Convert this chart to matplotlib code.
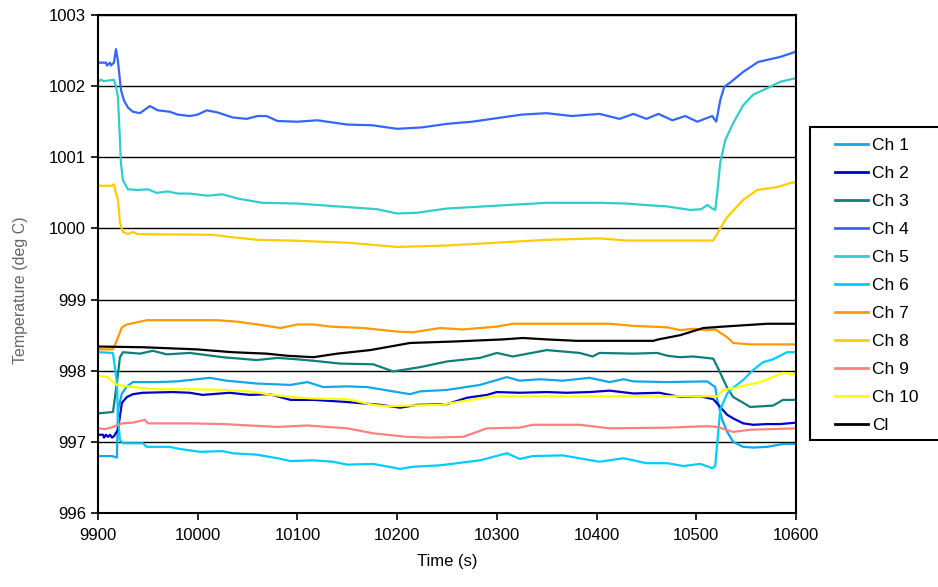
import matplotlib
matplotlib.use("Agg")
import matplotlib.pyplot as plt
from matplotlib.patches import Rectangle

plt.rcParams['font.family'] = ['Liberation Sans', 'DejaVu Sans']

# ---------------- data ----------------
t_ch1 = [9900,9914,9919,9920,9924,9929,9935,9959,9979,10012,10029,10059,10093,10110,10126,10150,10170,10200,10213,10223,10250,10283,10310,10323,10343,10366,10393,10413,10427,10437,10471,10511,10519,10521,10526,10531,10537,10547,10557,10571,10587,10600]
ch1 = [996.8,996.8,996.78,997.45,997.68,997.78,997.84,997.84,997.85,997.9,997.86,997.82,997.8,997.84,997.77,997.78,997.77,997.7,997.67,997.71,997.73,997.8,997.91,997.86,997.88,997.86,997.9,997.84,997.88,997.85,997.84,997.85,997.77,997.59,997.31,997.14,997.0,996.93,996.92,996.93,996.97,996.97]

t_ch2 = [9900,9905,9906,9908,9910,9912,9914,9916,9920,9924,9929,9935,9945,9975,9992,10005,10032,10052,10072,10093,10116,10150,10183,10203,10220,10250,10270,10290,10300,10323,10350,10370,10393,10413,10437,10463,10484,10504,10517,10524,10531,10537,10547,10557,10571,10584,10600]
ch2 = [997.1,997.1,997.06,997.1,997.07,997.1,997.06,997.08,997.17,997.55,997.63,997.67,997.69,997.7,997.69,997.66,997.69,997.66,997.67,997.59,997.59,997.56,997.52,997.48,997.52,997.53,997.62,997.66,997.7,997.69,997.7,997.69,997.7,997.72,997.68,997.69,997.63,997.64,997.6,997.49,997.38,997.33,997.26,997.24,997.25,997.25,997.27]

t_ch3 = [9900,9915,9919,9922,9925,9942,9955,9969,9992,10025,10059,10080,10100,10116,10143,10176,10196,10223,10250,10283,10300,10316,10350,10383,10396,10403,10437,10461,10471,10484,10497,10517,10524,10531,10537,10547,10554,10577,10587,10600]
ch3 = [997.4,997.42,997.83,998.19,998.26,998.24,998.28,998.23,998.25,998.19,998.15,998.18,998.16,998.14,998.1,998.09,997.99,998.05,998.13,998.18,998.25,998.2,998.29,998.25,998.2,998.25,998.24,998.25,998.21,998.19,998.2,998.17,997.97,997.76,997.63,997.55,997.49,997.51,997.59,997.59]

t_ch4 = [9900,9908,9909,9912,9913,9916,9918,9920,9923,9926,9930,9935,9942,9952,9960,9972,9980,9992,10000,10009,10020,10035,10049,10060,10069,10080,10100,10120,10150,10175,10200,10225,10250,10275,10300,10325,10350,10375,10403,10423,10437,10450,10462,10476,10489,10501,10516,10520,10524,10528,10534,10547,10562,10584,10599,10600]
ch4 = [1002.33,1002.33,1002.29,1002.33,1002.29,1002.33,1002.52,1002.35,1001.95,1001.8,1001.7,1001.64,1001.62,1001.72,1001.66,1001.64,1001.6,1001.58,1001.6,1001.66,1001.63,1001.56,1001.54,1001.58,1001.58,1001.51,1001.5,1001.52,1001.46,1001.45,1001.4,1001.42,1001.47,1001.5,1001.55,1001.6,1001.62,1001.58,1001.61,1001.54,1001.61,1001.54,1001.61,1001.52,1001.58,1001.5,1001.58,1001.5,1001.8,1001.99,1002.05,1002.2,1002.34,1002.41,1002.48,1002.5]

t_ch5 = [9900,9903,9906,9916,9918,9920,9922,9923,9925,9930,9940,9950,9959,9970,9980,9992,10010,10025,10040,10065,10100,10150,10180,10200,10220,10250,10300,10350,10403,10430,10448,10470,10494,10505,10511,10516,10519,10521,10524,10529,10537,10547,10557,10571,10584,10599,10600]
ch5 = [1002.06,1002.09,1002.07,1002.09,1002.0,1001.85,1001.24,1000.92,1000.68,1000.55,1000.54,1000.55,1000.5,1000.52,1000.49,1000.49,1000.46,1000.48,1000.42,1000.36,1000.35,1000.3,1000.27,1000.21,1000.22,1000.28,1000.32,1000.36,1000.36,1000.35,1000.33,1000.31,1000.26,1000.27,1000.33,1000.28,1000.26,1000.5,1000.92,1001.24,1001.48,1001.73,1001.88,1001.97,1002.06,1002.11,1002.12]

t_ch6 = [9900,9915,9919,9920,9922,9925,9945,9949,9972,9982,10002,10025,10035,10059,10080,10093,10116,10136,10150,10176,10203,10216,10243,10283,10310,10323,10336,10366,10403,10427,10450,10471,10487,10504,10516,10519,10521,10524,10531,10537,10547,10557,10567,10577,10591,10600]
ch6 = [998.26,998.25,997.83,997.35,997.03,996.98,996.98,996.93,996.93,996.9,996.86,996.87,996.84,996.82,996.77,996.73,996.74,996.72,996.68,996.69,996.62,996.65,996.67,996.74,996.84,996.76,996.8,996.81,996.72,996.77,996.7,996.7,996.66,996.69,996.63,996.66,996.98,997.45,997.68,997.76,997.87,998.01,998.12,998.16,998.26,998.26]

t_ch7 = [9900,9915,9919,9924,9929,9949,10019,10039,10065,10083,10100,10116,10133,10166,10200,10216,10243,10266,10300,10316,10366,10413,10437,10471,10484,10497,10511,10519,10531,10537,10554,10600]
ch7 = [998.3,998.3,998.43,998.61,998.65,998.71,998.71,998.69,998.64,998.6,998.65,998.65,998.62,998.6,998.55,998.54,998.6,998.58,998.62,998.66,998.66,998.66,998.63,998.61,998.57,998.59,998.57,998.58,998.47,998.39,998.37,998.37]

t_ch8 = [9900,9914,9916,9917,9920,9922,9925,9930,9935,9940,10015,10032,10060,10093,10150,10200,10250,10300,10350,10403,10430,10517,10524,10531,10537,10547,10561,10581,10597,10600]
ch8 = [1000.6,1000.6,1000.62,1000.55,1000.4,1000.08,999.95,999.92,999.95,999.92,999.91,999.88,999.84,999.83,999.8,999.74,999.76,999.8,999.84,999.86,999.83,999.83,1000.0,1000.16,1000.25,1000.4,1000.54,1000.58,1000.65,1000.63]

t_ch9 = [9900,9907,9913,9917,9924,9935,9947,9950,9992,10025,10080,10110,10150,10176,10210,10233,10266,10290,10323,10336,10383,10413,10471,10511,10521,10537,10554,10600]
ch9 = [997.19,997.18,997.2,997.22,997.26,997.27,997.31,997.26,997.26,997.25,997.21,997.23,997.19,997.12,997.07,997.06,997.07,997.19,997.2,997.24,997.24,997.19,997.2,997.22,997.21,997.14,997.17,997.19]

t_ch10 = [9900,9910,9912,9919,9924,9935,9957,9992,10025,10052,10075,10093,10116,10150,10176,10190,10213,10243,10283,10296,10521,10527,10537,10551,10564,10577,10587,10600]
ch10 = [997.93,997.91,997.88,997.8,997.79,997.77,997.74,997.74,997.73,997.71,997.66,997.63,997.61,997.6,997.52,997.5,997.51,997.52,997.61,997.64,997.64,997.73,997.75,997.8,997.84,997.91,997.97,997.95]

t_cl = [9900,9945,9999,10035,10069,10090,10116,10140,10173,10213,10256,10306,10326,10350,10380,10457,10462,10484,10507,10527,10571,10600]
cl = [998.34,998.33,998.3,998.26,998.24,998.21,998.19,998.24,998.29,998.39,998.41,998.44,998.46,998.44,998.42,998.42,998.44,998.5,998.6,998.62,998.66,998.66]

labels = ['Ch 1', 'Ch 2', 'Ch 3', 'Ch 4', 'Ch 5', 'Ch 6', 'Ch 7', 'Ch 8', 'Ch 9', 'Ch 10', 'Cl']
colors = ['#12A8E8', '#0000CC', '#0E7F7A', '#3366FF', '#33CCCC', '#00CCFF',
          '#FF9900', '#FFCC00', '#FF8080', '#FFFF00', '#000000']
series = [(t_ch1, ch1), (t_ch2, ch2), (t_ch3, ch3), (t_ch4, ch4), (t_ch5, ch5),
          (t_ch6, ch6), (t_ch7, ch7), (t_ch8, ch8), (t_ch9, ch9), (t_ch10, ch10),
          (t_cl, cl)]

y_ticks = [996, 997, 998, 999, 1000, 1001, 1002, 1003]
x_ticks = [9900, 10000, 10100, 10200, 10300, 10400, 10500, 10600]

# ---------------- figure ----------------
W, H = 938, 587
fig = plt.figure(figsize=(W / 100, H / 100), dpi=100)
ax = fig.add_axes([98 / W, 1 - 513 / H, (796 - 98) / W, (513 - 15) / H])

for y in y_ticks:
    ax.axhline(y, color='black', lw=1.0, zorder=1)

for (t, v), lab, c in zip(series, labels, colors):
    ax.plot(t, v, color=c, lw=1.6, label=lab, zorder=2)

ax.set_xlim(9900, 10600)
ax.set_ylim(996, 1003)
ax.set_xticks(x_ticks)
ax.set_yticks(y_ticks)
ax.tick_params(direction='out', length=5, width=1.2, labelsize=12, colors='black')
ax.tick_params(axis='x', pad=6)
for s in ax.spines.values():
    s.set_linewidth(1.5)
    s.set_color('black')

ax.set_xlabel('Time (s)', fontsize=12, labelpad=8)
fig.text(20 / W, 1 - 290 / H, 'Temperature (deg C)', rotation=90, fontsize=11.5,
         color='#666666', ha='center', va='center')

# legend frame (extends past the right edge as in the reference)
fig.patches.append(Rectangle((810 / W, 1 - 440 / H), 140 / W, (440 - 127) / H,
                             transform=fig.transFigure, facecolor='white',
                             edgecolor='black', lw=1.5, zorder=3))
leg = fig.legend(loc='upper left', bbox_to_anchor=(835 / W, 1 - 138 / H),
                 borderaxespad=0, borderpad=0, fontsize=12.5, frameon=False,
                 handlelength=1.9, handletextpad=0.22, labelspacing=0.74)
leg.set_zorder(4)
for h in leg.get_lines():
    h.set_linewidth(2.0)

fig.savefig('out.png', dpi=100)
